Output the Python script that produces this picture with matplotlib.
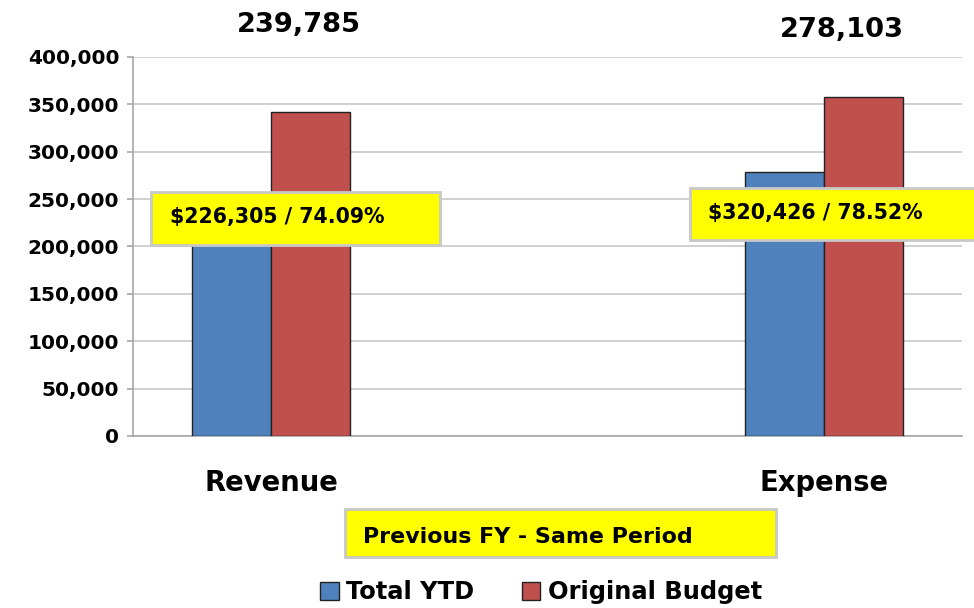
import matplotlib.pyplot as plt
from matplotlib.patches import Rectangle

# Data
categories = ["Revenue", "", "Expense"]
total_ytd = [239785, 0, 278103]
original_budget = [342000, 0, 357800]
box_labels = ["$226,305 / 74.09%", "$320,426 / 78.52%"]
note_label = "Previous FY - Same Period"
series_names = ["Total YTD", "Original Budget"]

BLUE = "#4F81BD"
RED = "#C0504D"
YELLOW = "#FFFF00"

plt.rcParams["font.family"] = "DejaVu Sans"
plt.rcParams["font.weight"] = "bold"

fig = plt.figure(figsize=(9.74, 6.08), dpi=100)
ax = fig.add_axes([0.1366, 0.2829, 0.8511, 0.6234])

width = 0.285
x = list(range(len(categories)))
shown = [i for i, c in enumerate(categories) if c]

ax.bar([x[i] - width / 2 for i in shown], [total_ytd[i] for i in shown],
       width=width, color=BLUE, edgecolor="#222222", linewidth=1.0,
       label=series_names[0], zorder=3)
ax.bar([x[i] + width / 2 for i in shown], [original_budget[i] for i in shown],
       width=width, color=RED, edgecolor="#222222", linewidth=1.0,
       label=series_names[1], zorder=3)

ax.set_xlim(-0.5, len(categories) - 0.5)
ax.set_ylim(0, 400000)
ax.set_yticks(range(0, 400001, 50000))
ax.set_yticklabels([f"{v:,}" for v in range(0, 400001, 50000)],
                   fontsize=14.5, fontweight="bold")
ax.set_xticks([])

ax.grid(axis="y", color="#C4C4C4", linewidth=1.1, zorder=0)
for s in ["top", "right"]:
    ax.spines[s].set_visible(False)
for s in ["left", "bottom"]:
    ax.spines[s].set_color("#A6A6A6")
    ax.spines[s].set_linewidth(1.2)
ax.tick_params(axis="y", length=4, color="#A6A6A6", width=1.2, pad=6)

# category labels under the axis
for i in shown:
    ax.text(x[i], -50000, categories[i], ha="center", va="center",
            fontsize=19.8, fontweight="bold")

# Total YTD values written above the plot
offsets = {0: (0.1, 433800), 2: (2.065, 428500)}
for i in shown:
    ox, oy = offsets[i]
    ax.text(ox, oy, f"{total_ytd[i]:,}", ha="center", va="center",
            fontsize=19.6, fontweight="bold", clip_on=False)

# yellow callout boxes (figure coords)
boxes = [(0.155, 0.597, 0.2967, 0.0872), (0.7084, 0.6053, 0.30, 0.0855)]
text_pos = [(0.1745, 0.643), (0.727, 0.649)]
for (bx, by, bw, bh), (tx, ty), lab in zip(boxes, text_pos, box_labels):
    fig.patches.append(Rectangle((bx, by), bw, bh, transform=fig.transFigure,
                                 facecolor=YELLOW, edgecolor="#C8C8C8",
                                 linewidth=2, zorder=5))
    fig.text(tx, ty, lab, ha="left", va="center", fontsize=14.8,
             fontweight="bold", zorder=6)

fig.patches.append(Rectangle((0.3542, 0.0839), 0.4425, 0.0789,
                             transform=fig.transFigure, facecolor=YELLOW,
                             edgecolor="#C8C8C8", linewidth=2, zorder=5))
fig.text(0.3727, 0.1168, note_label, ha="left", va="center", fontsize=15.9,
         fontweight="bold", zorder=6)

leg = fig.legend(loc="center", bbox_to_anchor=(0.5555, 0.026), ncol=2,
                 frameon=False, fontsize=17.4, handlelength=0.75,
                 handleheight=0.75, handletextpad=0.3, columnspacing=2.0)
for t in leg.get_texts():
    t.set_fontweight("bold")

fig.savefig("out.png", dpi=100)
